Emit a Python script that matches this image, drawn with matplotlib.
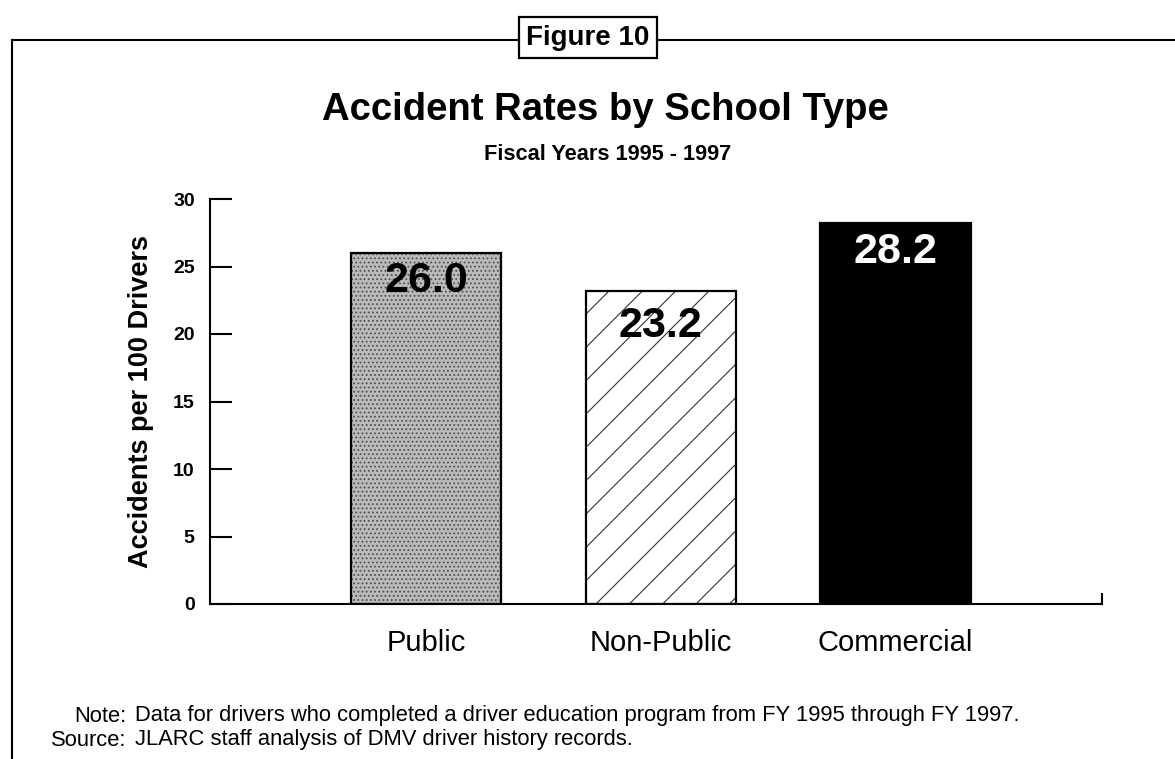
import matplotlib
matplotlib.use("Agg")
import matplotlib.pyplot as plt
from matplotlib.lines import Line2D
from matplotlib.patches import Rectangle

categories = ["Public", "Non-Public", "Commercial"]
values = [26.0, 23.2, 28.2]
value_labels = ["26.0", "23.2", "28.2"]
yticks = [0, 5, 10, 15, 20, 25, 30]

plt.rcParams['font.family'] = ['Liberation Sans', 'DejaVu Sans']
plt.rcParams['hatch.linewidth'] = 0.8

W, H = 1175, 759
fig = plt.figure(figsize=(W / 100, H / 100), dpi=100)

def fx(px):
    return px / W

def fy(py):
    return 1 - py / H

ax = fig.add_axes([fx(210), fy(604), fx(1102) - fx(210), fy(199) - fy(604)])
x = list(range(len(categories)))
width = 0.64

faces = ["#bababa", "white", "black"]
hatches = ["....", "/", None]
hcols = ["#505050", "#333333", "black"]
for i in x:
    ax.bar(x[i], values[i], width=width, color=faces[i], hatch=hatches[i],
           edgecolor=hcols[i], linewidth=0, zorder=2)
ax.bar(x, values, width=width, facecolor="none", edgecolor="black", linewidth=1.6, zorder=3)

txtcols = ["black", "black", "white"]
offsets = [-6, -11, -6]
for i in x:
    ax.annotate(value_labels[i], (x[i], values[i]), xytext=(0, offsets[i]), textcoords="offset points",
                ha="center", va="top", fontsize=31, fontweight="bold", color=txtcols[i], zorder=4)

ax.set_xlim(-0.92, 2.88)
ax.set_ylim(0, 30)
ax.set_yticks(yticks)
ax.set_yticklabels([str(t) for t in yticks], fontsize=14, fontweight="bold")
ax.tick_params(axis="y", direction="in", length=16, width=1.5, pad=11)
ax.set_xticks(x)
ax.set_xticklabels(categories, fontsize=21)
ax.tick_params(axis="x", length=0, pad=18)
for s in ["top", "right"]:
    ax.spines[s].set_visible(False)
ax.spines["left"].set_linewidth(1.5)
ax.spines["bottom"].set_linewidth(1.5)
ax.plot([1, 1], [0, 0.025], transform=ax.transAxes, color="black", lw=1.5, clip_on=False)

ax.set_ylabel("Accidents per 100 Drivers", fontsize=19.5, fontweight="bold", labelpad=14)

# Frame and figure box
fig.add_artist(Line2D([fx(12), fx(12)], [fy(40), 0], color="black", lw=1.5))
fig.add_artist(Line2D([fx(12), fx(519)], [fy(40), fy(40)], color="black", lw=1.5))
fig.add_artist(Line2D([fx(657), 1], [fy(40), fy(40)], color="black", lw=1.5))
fig.add_artist(Rectangle((fx(519), fy(58)), fx(657) - fx(519), fy(17) - fy(58),
                         fill=False, edgecolor="black", lw=1.6))
fig.text(fx(588), fy(38), "Figure 10", ha="center", va="center", fontsize=20, fontweight="bold")

fig.text(fx(605), fy(110), "Accident Rates by School Type", ha="center", va="center",
         fontsize=27.5, fontweight="bold")
fig.text(fx(608), fy(155), "Fiscal Years 1995 - 1997", ha="center", va="center",
         fontsize=15.7, fontweight="bold")

fs = 15.8
fig.text(fx(126), fy(716), "Note:", ha="right", va="center", fontsize=fs)
fig.text(fx(135), fy(716), "Data for drivers who completed a driver education program from FY 1995 through FY 1997.",
         ha="left", va="center", fontsize=fs)
fig.text(fx(126), fy(740), "Source:", ha="right", va="center", fontsize=fs)
fig.text(fx(135), fy(740), "JLARC staff analysis of DMV driver history records.",
         ha="left", va="center", fontsize=fs)

fig.savefig("out.png", dpi=100, facecolor="white")
